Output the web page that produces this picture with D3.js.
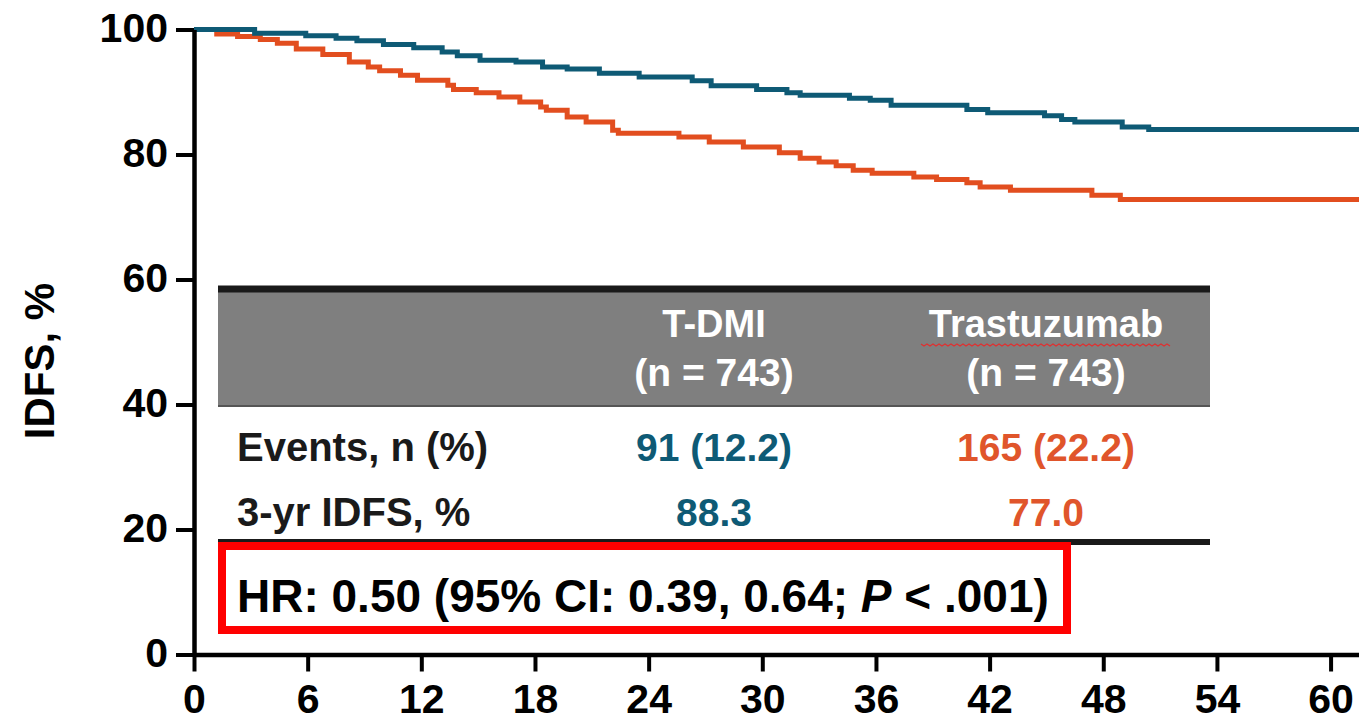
<!DOCTYPE html>
<html><head><meta charset="utf-8">
<script src="https://cdn.jsdelivr.net/npm/d3@7/dist/d3.min.js"></script>
<style>
html,body{margin:0;padding:0;background:#fff;}
svg{display:block;font-family:"Liberation Sans",Arial,Helvetica,sans-serif;font-weight:bold;}
</style></head>
<body>
<svg id="chart" width="1359" height="721"></svg>
<script>
// ---- data ----
const xTicks = [0, 6, 12, 18, 24, 30, 36, 42, 48, 54, 60];
const yTicks = [0, 20, 40, 60, 80, 100];
const yLabel = "IDFS, %";
// T-DM1 Kaplan-Meier steps: month / IDFS %
const tdm1Months = [0, 3.2, 5.9, 7.5, 8.6, 10.0, 11.6, 13.1, 13.9, 15.1, 17.0, 18.4, 19.7, 21.4, 23.5, 26.3, 27.3, 29.7, 31.3, 32.0, 34.6, 35.7, 36.8, 40.8, 41.9, 44.9, 45.8, 46.5, 49.0, 50.4, 61.6];
const tdm1Values = [100, 99.4, 99.0, 98.6, 98.2, 97.6, 97.1, 96.4, 95.8, 95.1, 94.8, 94.0, 93.7, 93.0, 92.4, 91.8, 91.0, 90.4, 89.9, 89.5, 89.0, 88.7, 87.9, 87.2, 86.7, 86.2, 85.6, 85.2, 84.4, 84.0, 84.0];
// Trastuzumab Kaplan-Meier steps
const trasMonths = [0, 1.2, 2.3, 3.5, 4.4, 5.4, 6.8, 8.2, 9.2, 9.8, 10.9, 11.8, 13.4, 13.7, 14.9, 16.1, 17.2, 18.3, 18.6, 19.7, 20.7, 22.1, 22.4, 25.6, 27.2, 29.0, 30.9, 32.0, 33.0, 33.9, 34.8, 35.8, 38.0, 39.2, 40.8, 41.5, 43.1, 47.4, 48.9, 61.6];
const trasValues = [100, 99.3, 98.9, 98.4, 97.8, 96.9, 96.0, 94.8, 94.0, 93.4, 92.7, 91.9, 91.1, 90.4, 89.9, 89.2, 88.4, 87.6, 87.1, 86.0, 85.2, 83.9, 83.4, 82.8, 82.0, 81.2, 80.3, 79.4, 78.8, 78.2, 77.5, 77.0, 76.4, 76.0, 75.5, 74.8, 74.3, 73.5, 72.8, 72.8];
// table
const armNames = ["T-DMI", "Trastuzumab"];
const armN = ["(n = 743)", "(n = 743)"];
const rowLabels = ["Events, n (%)", "3-yr IDFS, %"];
const eventsText = ["91 (12.2)", "165 (22.2)"];
const idfs3yr = ["88.3", "77.0"];
const hrText = ["HR: 0.50 (95% CI: 0.39, 0.64; ", "P", " < .001)"];

const blue = "#0e5a75", orange = "#e24e1f";
const armColors = [blue, "#e0552b"];

const svg = d3.select("#chart");
const x = d3.scaleLinear().domain([0, 61.5]).range([194, 1359]);
const y = d3.scaleLinear().domain([0, 100]).range([654.5, 29.5]);

// curves
const line = d3.line().x(d => x(d[0])).y(d => y(d[1])).curve(d3.curveStepAfter);
const series = [
  {m: tdm1Months, v: tdm1Values, c: blue},
  {m: trasMonths, v: trasValues, c: orange}
];
[series[1], series[0]].forEach(s => {
  svg.append("path")
    .datum(s.m.map((mm, i) => [mm, s.v[i]]))
    .attr("d", line)
    .attr("fill", "none")
    .attr("stroke", s.c)
    .attr("stroke-width", 5);
});

// axes
const yAxis = svg.append("g").attr("transform", `translate(${x(0)},0)`)
  .call(d3.axisLeft(y).tickValues(yTicks).tickSize(18).tickPadding(8).tickSizeOuter(0));
const xAxis = svg.append("g").attr("transform", `translate(0,${y(0)})`)
  .call(d3.axisBottom(x).tickValues(xTicks).tickSize(17).tickPadding(12).tickSizeOuter(0));
[yAxis, xAxis].forEach(g => {
  g.select(".domain").attr("stroke", "#000").attr("stroke-width", 4.5);
  g.selectAll(".tick line").attr("stroke", "#000").attr("stroke-width", 4);
  g.selectAll(".tick text").attr("fill", "#000")
    .style("font-family", "'Liberation Sans',Arial,sans-serif")
    .style("font-weight", "bold").style("font-size", "41px");
});
yAxis.selectAll(".tick text").attr("dy", "0.3em");
xAxis.selectAll(".tick text").attr("dy", "0.71em");

svg.append("text")
  .attr("transform", "translate(54,361) rotate(-90)")
  .attr("text-anchor", "middle")
  .style("font-size", "42px").attr("fill", "#000")
  .text(yLabel);

// table
const tL = 218, tR = 1210;
const colX = [714, 1046];
svg.append("rect").attr("x", tL).attr("y", 291).attr("width", tR - tL).attr("height", 115).attr("fill", "#7f7f7f");
svg.append("line").attr("x1", tL).attr("x2", tR).attr("y1", 289).attr("y2", 289).attr("stroke", "#1a1a1a").attr("stroke-width", 7);
svg.append("line").attr("x1", tL).attr("x2", tR).attr("y1", 406).attr("y2", 406).attr("stroke", "#555").attr("stroke-width", 2);
svg.append("line").attr("x1", tL).attr("x2", tR).attr("y1", 542).attr("y2", 542).attr("stroke", "#1a1a1a").attr("stroke-width", 6);

armNames.forEach((nm, i) => {
  svg.append("text").attr("x", colX[i]).attr("y", 337).attr("text-anchor", "middle")
    .attr("fill", "#fff").style("font-size", "38px").text(nm);
  svg.append("text").attr("x", colX[i]).attr("y", 386).attr("text-anchor", "middle")
    .attr("fill", "#fff").style("font-size", "39px").text(armN[i]);
  svg.append("text").attr("x", colX[i]).attr("y", 461).attr("text-anchor", "middle")
    .attr("fill", armColors[i]).style("font-size", "39px").text(eventsText[i]);
  svg.append("text").attr("x", colX[i]).attr("y", 526).attr("text-anchor", "middle")
    .attr("fill", armColors[i]).style("font-size", "39px").text(idfs3yr[i]);
});
// spell-check squiggle under "Trastuzumab"
(function(){
  const x0 = 921, x1 = 1170, yy = 344;
  let d = `M${x0},${yy}`;
  for (let xx = x0, k = 0; xx < x1; xx += 3, k++) d += ` L${xx + 3},${yy + (k % 2 ? 0 : 2)}`;
  svg.append("path").attr("d", d).attr("fill", "none").attr("stroke", "#e03030").attr("stroke-width", 1.2);
})();

rowLabels.forEach((lb, i) => {
  svg.append("text").attr("x", 237).attr("y", [461, 526][i]).attr("fill", "#1a1a1a")
    .style("font-size", "40px").text(lb);
});

// HR box
svg.append("rect").attr("x", 222).attr("y", 546).attr("width", 845).attr("height", 84)
  .attr("fill", "#fff").attr("stroke", "#ff0000").attr("stroke-width", 8);
const hr = svg.append("text").attr("x", 237).attr("y", 612).attr("fill", "#000").style("font-size", "46px");
hr.append("tspan").text(hrText[0]);
hr.append("tspan").style("font-style", "italic").text(hrText[1]);
hr.append("tspan").text(hrText[2]);
</script>
</body></html>
